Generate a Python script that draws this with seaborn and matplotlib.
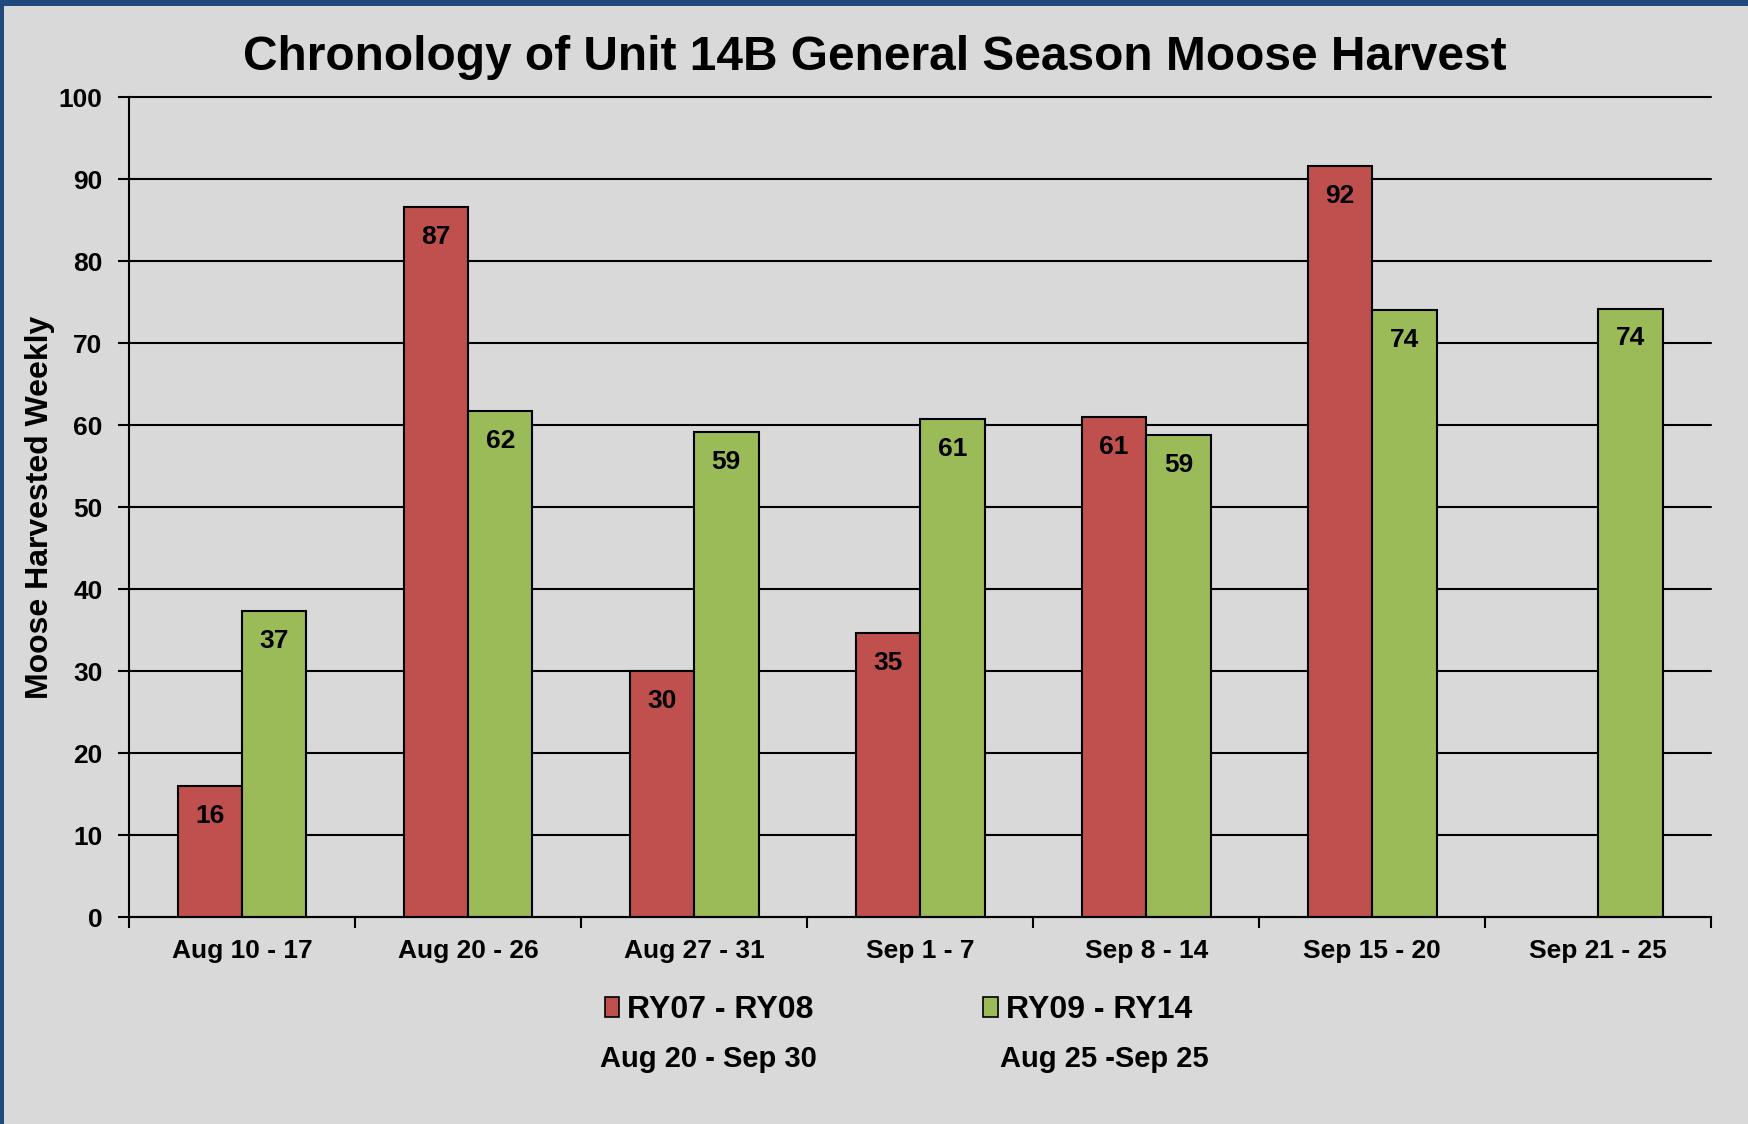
import matplotlib
matplotlib.use("Agg")
import matplotlib.pyplot as plt
from matplotlib.patches import Rectangle, Patch
import seaborn as sns
import pandas as pd
import numpy as np

# data
weeks = ["Aug 10 - 17", "Aug 20 - 26", "Aug 27 - 31", "Sep 1 - 7",
         "Sep 8 - 14", "Sep 15 - 20", "Sep 21 - 25"]
ry07_08 = [16.0, 86.6, 30.0, 34.6, 61.0, 91.6, None]
ry09_14 = [37.3, 61.7, 59.1, 60.7, 58.8, 74.0, 74.2]
series_names = ["RY07 - RY08", "RY09 - RY14"]
season_notes = ["Aug 20 - Sep 30", "Aug 25 -Sep 25"]
colors = ["#c0504d", "#9bbb59"]

rows = []
for name, vals in zip(series_names, [ry07_08, ry09_14]):
    for w, v in zip(weeks, vals):
        if v is not None:
            rows.append({"week": w, "series": name, "harvest": v})
df = pd.DataFrame(rows)

sns.set_theme(style="white")
plt.rcParams["font.family"] = ["Liberation Sans", "DejaVu Sans"]
plt.rcParams["font.weight"] = "bold"
plt.rcParams["text.color"] = "black"
plt.rcParams["axes.labelcolor"] = "black"
plt.rcParams["xtick.color"] = "black"
plt.rcParams["ytick.color"] = "black"

bg = "#d9d9d9"
fig = plt.figure(figsize=(17.48, 11.24), dpi=100, facecolor=bg)
ax = fig.add_axes([0.0738, 0.184, 0.9052, 0.7297])
ax.set_facecolor(bg)

sns.barplot(data=df, x="week", y="harvest", hue="series", order=weeks,
            hue_order=series_names, palette=colors, width=0.57,
            edgecolor="black", linewidth=1.5, errorbar=None, ax=ax,
            legend=False, saturation=1)

for cont in ax.containers:
    ax.bar_label(cont, fmt="{:.0f}", padding=-30, fontsize=19,
                 fontweight="bold", color="black")

ax.set_ylim(0, 100)
ax.set_xlim(-0.5, len(weeks) - 0.5)
ax.set_yticks(np.arange(0, 101, 10))
ax.set_axisbelow(True)
ax.yaxis.grid(True, color="black", linewidth=1.5)
ax.xaxis.grid(False)
for gl in ax.get_ygridlines():
    gl.set_clip_on(False)

ax.set_xlabel("")
ax.set_ylabel("Moose Harvested Weekly", fontsize=23, fontweight="bold")
ax.yaxis.set_label_coords(-0.047, 0.5)
ax.set_title("")

for s in ["top", "right"]:
    ax.spines[s].set_visible(False)
for s in ["left", "bottom"]:
    ax.spines[s].set_color("black")
    ax.spines[s].set_linewidth(1.5)

ax.tick_params(axis="y", direction="out", length=8, width=1.5, color="black",
               labelsize=19, pad=11, left=True, labelcolor="black")
ax.set_xticks(np.arange(len(weeks)))
ax.set_xticklabels(weeks)
ax.set_xticks(np.arange(-0.5, len(weeks)), minor=True)
ax.tick_params(axis="x", which="major", length=0, labelsize=19, pad=16,
               labelcolor="black")
ax.tick_params(axis="x", which="minor", direction="out", length=8, width=1.5,
               color="black", bottom=True)
for lab in ax.get_xticklabels() + ax.get_yticklabels():
    lab.set_fontweight("bold")

fig.text(0.5006, 0.949, "Chronology of Unit 14B General Season Moose Harvest",
         ha="center", va="center", fontsize=34.5, fontweight="bold", color="black")

handles = [Patch(facecolor=c, edgecolor="black", linewidth=1.2) for c in colors]
leg = fig.legend(handles, series_names, loc="center", bbox_to_anchor=(0.514, 0.101),
                 ncol=2, frameon=False, fontsize=23, handlelength=0.45,
                 handleheight=0.6, handletextpad=0.25, columnspacing=5.3)
for t in leg.get_texts():
    t.set_fontweight("bold")
    t.set_color("black")

fig.text(708 / 1748, 1 - 1059 / 1124, season_notes[0], ha="center", va="center",
         fontsize=21, fontweight="bold", color="black")
fig.text(1104 / 1748, 1 - 1059 / 1124, season_notes[1], ha="center", va="center",
         fontsize=21, fontweight="bold", color="black")

# blue frame on top and left edges
fig.patches.append(Rectangle((0, 1 - 6 / 1124), 1, 6 / 1124, transform=fig.transFigure,
                             facecolor="#1f497d", edgecolor="none", zorder=10))
fig.patches.append(Rectangle((0, 0), 4 / 1748, 1, transform=fig.transFigure,
                             facecolor="#1f497d", edgecolor="none", zorder=10))

fig.savefig("out.png", dpi=100, facecolor=bg)
